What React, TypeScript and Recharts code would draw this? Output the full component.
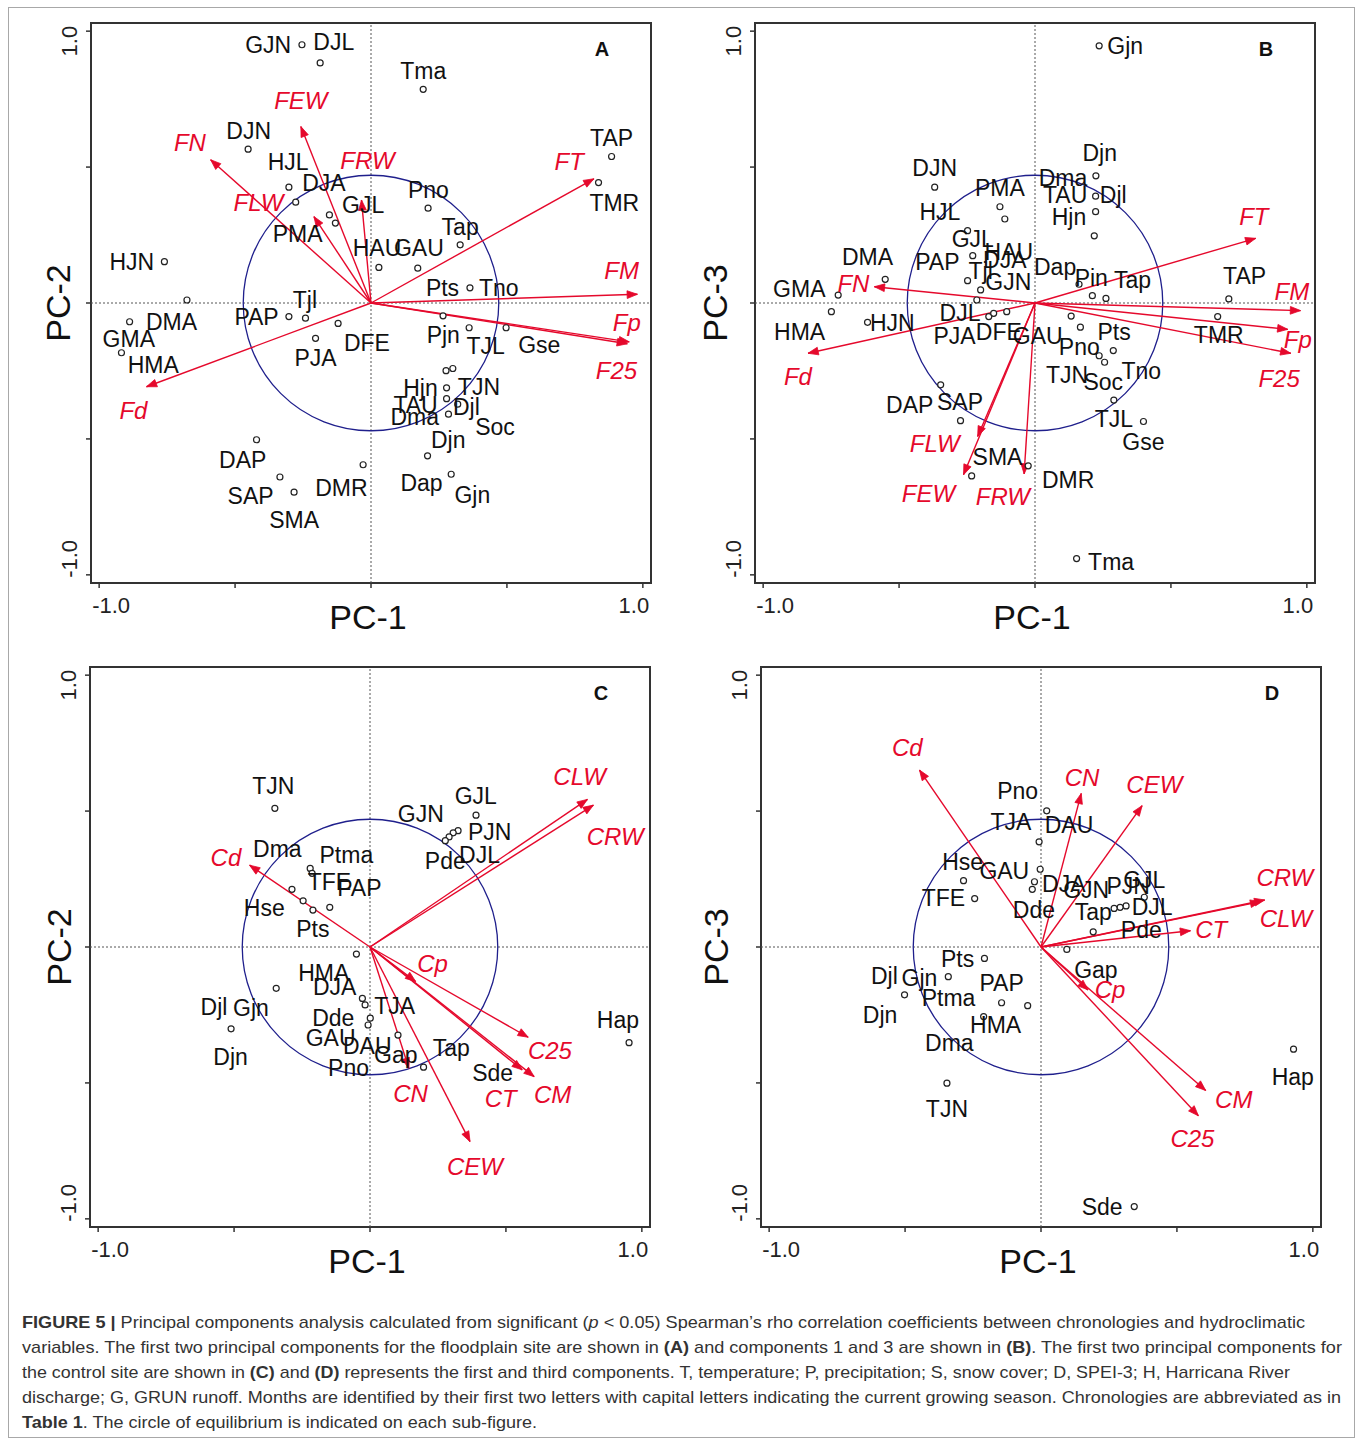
import React from "react";
import {
  ScatterChart,
  Scatter,
  XAxis,
  YAxis,
  ReferenceArea,
  ReferenceLine,
  ReferenceDot,
} from "recharts";

type Pt = [number, number];
type Lbl = [string, number, number];
// name, tip x, tip y, label x, label y
type Arrow = [string, number, number, number, number];

// ---- Panel A: floodplain site, PC-1 vs PC-2 ----
const pointsA: Pt[] = [
  [-0.254, 0.95], [-0.187, 0.883], [0.192, 0.786], [-0.452, 0.566], [0.885, 0.539],
  [0.837, 0.443], [-0.302, 0.426], [-0.277, 0.371], [-0.153, 0.324], [-0.131, 0.294],
  [0.21, 0.349], [0.328, 0.214], [0.029, 0.131], [0.172, 0.128], [-0.76, 0.152],
  [0.364, 0.056], [-0.677, 0.011], [-0.888, -0.069], [-0.918, -0.183], [-0.302, -0.05],
  [-0.241, -0.056], [-0.121, -0.075], [-0.204, -0.13], [0.265, -0.047], [0.361, -0.091],
  [0.497, -0.091], [0.276, -0.249], [0.301, -0.241], [0.278, -0.312], [0.278, -0.352],
  [0.319, -0.372], [0.285, -0.409], [-0.421, -0.503], [0.208, -0.562], [-0.029, -0.595],
  [-0.335, -0.64], [-0.283, -0.696], [0.295, -0.63],
];
const labelsA: Lbl[] = [
  ["GJN", -0.378, 0.95], ["DJL", -0.137, 0.96], ["Tma", 0.192, 0.852], ["DJN", -0.45, 0.634],
  ["TAP", 0.885, 0.607], ["HJL", -0.305, 0.517], ["DJA", -0.173, 0.441], ["GJL", -0.029, 0.361],
  ["Pno", 0.211, 0.416], ["TMR", 0.895, 0.367], ["PMA", -0.27, 0.254], ["Tap", 0.328, 0.281],
  ["HAU", 0.022, 0.201], ["GAU", 0.176, 0.201], ["HJN", -0.88, 0.152], ["Pts", 0.263, 0.054],
  ["Tno", 0.47, 0.054], ["Tjl", -0.243, 0.011], ["DMA", -0.734, -0.069], ["PAP", -0.421, -0.053],
  ["GMA", -0.891, -0.134], ["HMA", -0.801, -0.228], ["DFE", -0.015, -0.148], ["PJA", -0.204, -0.201],
  ["Pjn", 0.266, -0.118], ["TJL", 0.422, -0.158], ["Gse", 0.619, -0.155], ["Hjn", 0.182, -0.314],
  ["TJN", 0.397, -0.308], ["TAU", 0.164, -0.376], ["Djl", 0.351, -0.382], ["Dma", 0.161, -0.421],
  ["Soc", 0.456, -0.456], ["Djn", 0.284, -0.505], ["DAP", -0.472, -0.576], ["DMR", -0.109, -0.679],
  ["Dap", 0.186, -0.662], ["Gjn", 0.373, -0.707], ["SAP", -0.443, -0.711], ["SMA", -0.283, -0.797],
];
const arrowsA: Arrow[] = [
  ["FEW", -0.258, 0.649, -0.258, 0.744],
  ["FN", -0.59, 0.527, -0.666, 0.592],
  ["FRW", -0.035, 0.379, -0.013, 0.526],
  ["FLW", -0.21, 0.318, -0.414, 0.369],
  ["FT", 0.82, 0.457, 0.729, 0.521],
  ["FM", 0.98, 0.032, 0.922, 0.118],
  ["Fp", 0.95, -0.143, 0.941, -0.071],
  ["F25", 0.943, -0.15, 0.903, -0.249],
  ["Fd", -0.826, -0.308, -0.874, -0.394],
];

// ---- Panel B: floodplain site, PC-1 vs PC-3 ----
const pointsB: Pt[] = [
  [0.236, 0.946], [-0.369, 0.426], [0.224, 0.468], [0.223, 0.393], [0.223, 0.336],
  [0.218, 0.247], [-0.129, 0.354], [-0.111, 0.309], [-0.248, 0.266], [-0.229, 0.174],
  [-0.248, 0.082], [-0.2, 0.048], [-0.214, 0.011], [-0.551, 0.087], [-0.724, 0.029],
  [0.162, 0.069], [0.211, 0.027], [0.261, 0.017], [0.713, 0.015], [-0.749, -0.032],
  [-0.616, -0.071], [-0.17, -0.05], [-0.152, -0.038], [-0.104, -0.032], [0.133, -0.048],
  [0.167, -0.089], [0.672, -0.05], [0.288, -0.175], [0.236, -0.194], [0.256, -0.218],
  [-0.347, -0.301], [0.29, -0.357], [0.399, -0.436], [-0.274, -0.433], [-0.025, -0.599],
  [-0.233, -0.636], [0.153, -0.94],
];
const labelsB: Lbl[] = [
  ["Gjn", 0.332, 0.946], ["Djn", 0.238, 0.55], ["DJN", -0.369, 0.495], ["Dma", 0.103, 0.458],
  ["PMA", -0.129, 0.424], ["TAU", 0.111, 0.397], ["Djl", 0.288, 0.397], ["HJL", -0.35, 0.336],
  ["Hjn", 0.125, 0.317], ["GJL", -0.229, 0.235], ["HAU", -0.096, 0.189], ["DJA", -0.111, 0.158],
  ["DMA", -0.616, 0.17], ["PAP", -0.359, 0.152], ["Dap", 0.074, 0.131], ["Tjl", -0.2, 0.118],
  ["GJN", -0.098, 0.078], ["Pin", 0.207, 0.091], ["Tap", 0.359, 0.085], ["TAP", 0.771, 0.099],
  ["GMA", -0.867, 0.051], ["DJL", -0.276, -0.038], ["HJN", -0.525, -0.072], ["HMA", -0.866, -0.105],
  ["PJA", -0.296, -0.121], ["DFE", -0.133, -0.105], ["GAU", 0.01, -0.121], ["Pts", 0.291, -0.105],
  ["Pno", 0.163, -0.163], ["TMR", 0.676, -0.118], ["Tno", 0.391, -0.249], ["TJN", 0.118, -0.265],
  ["Soc", 0.251, -0.289], ["DAP", -0.461, -0.375], ["SAP", -0.276, -0.363], ["TJL", 0.29, -0.428],
  ["Gse", 0.399, -0.51], ["SMA", -0.138, -0.565], ["DMR", 0.122, -0.651], ["Tma", 0.28, -0.951],
];
const arrowsB: Arrow[] = [
  ["FT", 0.812, 0.238, 0.805, 0.317],
  ["FN", -0.591, 0.06, -0.668, 0.072],
  ["FM", 0.977, -0.028, 0.945, 0.042],
  ["Fp", 0.93, -0.097, 0.967, -0.134],
  ["F25", 0.941, -0.185, 0.898, -0.277],
  ["Fd", -0.835, -0.185, -0.872, -0.271],
  ["FLW", -0.211, -0.491, -0.369, -0.518],
  ["FEW", -0.263, -0.632, -0.392, -0.7],
  ["FRW", -0.04, -0.629, -0.118, -0.712],
];

// ---- Panel C: control site, PC-1 vs PC-2 ----
const pointsC: Pt[] = [
  [-0.35, 0.51], [0.39, 0.485], [0.324, 0.428], [0.306, 0.42], [0.291, 0.405],
  [0.277, 0.391], [-0.22, 0.289], [-0.213, 0.271], [-0.287, 0.212], [-0.246, 0.17],
  [-0.21, 0.136], [-0.148, 0.146], [-0.05, -0.026], [-0.345, -0.152], [-0.511, -0.301],
  [-0.028, -0.189], [-0.018, -0.213], [0.001, -0.262], [-0.007, -0.287], [0.103, -0.324],
  [0.197, -0.442], [0.953, -0.352],
];
const labelsC: Lbl[] = [
  ["TJN", -0.356, 0.592], ["GJL", 0.389, 0.555], ["GJN", 0.187, 0.491], ["PJN", 0.44, 0.424],
  ["Dma", -0.341, 0.359], ["Ptma", -0.087, 0.338], ["DJL", 0.403, 0.338], ["Pde", 0.277, 0.317],
  ["TFE", -0.149, 0.24], ["PAP", -0.039, 0.218], ["Hse", -0.389, 0.142], ["Pts", -0.21, 0.065],
  ["HMA", -0.17, -0.097], ["DJA", -0.13, -0.146], ["TJA", 0.091, -0.216], ["Djl", -0.574, -0.219],
  ["Gjn", -0.438, -0.226], ["Hap", 0.912, -0.268], ["Dde", -0.135, -0.262], ["GAU", -0.145, -0.336],
  ["DAU", -0.01, -0.364], ["Gap", 0.095, -0.397], ["Tap", 0.299, -0.373], ["Djn", -0.513, -0.406],
  ["Pno", -0.079, -0.446], ["Sde", 0.451, -0.462],
];
const arrowsC: Arrow[] = [
  ["CLW", 0.8, 0.543, 0.771, 0.629],
  ["CRW", 0.822, 0.522, 0.902, 0.406],
  ["Cd", -0.443, 0.301, -0.53, 0.33],
  ["Cp", 0.168, -0.127, 0.23, -0.06],
  ["C25", 0.582, -0.332, 0.662, -0.379],
  ["CT", 0.56, -0.452, 0.481, -0.556],
  ["CM", 0.604, -0.477, 0.672, -0.544],
  ["CN", 0.143, -0.446, 0.149, -0.538],
  ["CEW", 0.368, -0.716, 0.386, -0.808],
];

// ---- Panel D: control site, PC-1 vs PC-3 ----
const pointsD: Pt[] = [
  [0.021, 0.501], [-0.007, 0.387], [-0.003, 0.286], [-0.024, 0.24], [-0.032, 0.212],
  [-0.285, 0.244], [-0.244, 0.178], [0.38, 0.183], [0.313, 0.151], [0.291, 0.146],
  [0.269, 0.142], [0.192, 0.056], [0.095, -0.009], [-0.208, -0.042], [-0.341, -0.109],
  [-0.502, -0.176], [-0.145, -0.205], [-0.049, -0.216], [-0.211, -0.256], [-0.346, -0.501],
  [0.929, -0.376], [0.343, -0.955],
];
const labelsD: Lbl[] = [
  ["Pno", -0.086, 0.574], ["TJA", -0.111, 0.458], ["DAU", 0.103, 0.449], ["Hse", -0.288, 0.314],
  ["GAU", -0.135, 0.279], ["GJL", 0.38, 0.246], ["DJA", 0.084, 0.232], ["GJN", 0.166, 0.21],
  ["PJN", 0.321, 0.224], ["TFE", -0.359, 0.179], ["DJL", 0.409, 0.148], ["Dde", -0.026, 0.136],
  ["Tap", 0.192, 0.13], ["Pde", 0.369, 0.063], ["Pts", -0.307, -0.045], ["Gap", 0.202, -0.085],
  ["Djl", -0.576, -0.107], ["Gjn", -0.447, -0.113], ["PAP", -0.145, -0.131], ["Ptma", -0.34, -0.189],
  ["Djn", -0.592, -0.25], ["HMA", -0.167, -0.287], ["Dma", -0.337, -0.352], ["Hap", 0.926, -0.477],
  ["TJN", -0.346, -0.597], ["Sde", 0.225, -0.955],
];
const arrowsD: Arrow[] = [
  ["Cd", -0.447, 0.651, -0.492, 0.734],
  ["CN", 0.148, 0.565, 0.151, 0.624],
  ["CEW", 0.372, 0.52, 0.417, 0.599],
  ["CRW", 0.823, 0.173, 0.897, 0.256],
  ["CLW", 0.808, 0.167, 0.901, 0.105],
  ["CT", 0.55, 0.06, 0.626, 0.063],
  ["Cp", 0.173, -0.158, 0.254, -0.156],
  ["CM", 0.606, -0.528, 0.709, -0.56],
  ["C25", 0.579, -0.621, 0.557, -0.703],
];

const axisTicks = [-1, -0.5, 0, 0.5, 1];
const circleRadius = 0.47; // circle of equilibrium

// layout
const LIM = 1.03;
const PLOT = 560;
const PX_PER_UNIT = PLOT / (2 * LIM);
const PAD_L = 90;
const PAD_T = 23;
const RED = "#e5092c";
const FONT = '"Liberation Sans", Arial, Helvetica, sans-serif';

const panels = [
  { letter: "A", left: 91, top: 23, yTitle: "PC-2", yTitleDx: -33, points: pointsA, labels: labelsA, arrows: arrowsA },
  { letter: "B", left: 755, top: 23, yTitle: "PC-3", yTitleDx: -40, points: pointsB, labels: labelsB, arrows: arrowsB },
  { letter: "C", left: 90, top: 667, yTitle: "PC-2", yTitleDx: -31, points: pointsC, labels: labelsC, arrows: arrowsC },
  { letter: "D", left: 761, top: 667, yTitle: "PC-3", yTitleDx: -45, points: pointsD, labels: labelsD, arrows: arrowsD },
];

const XTick = (props: any) => {
  const v = props.payload.value;
  const y = PAD_T + PLOT + 22;
  if (v !== -1 && v !== 1) return <g />;
  return (
    <text
      x={v === -1 ? props.x + 12 : props.x - 9}
      y={y}
      textAnchor="middle"
      dominantBaseline="central"
      fontSize={22}
      fontFamily={FONT}
      fill="#222"
    >
      {v === -1 ? "-1.0" : "1.0"}
    </text>
  );
};

const YTick = (props: any) => {
  const v = props.payload.value;
  if (v !== -1 && v !== 1) return <g />;
  const cx = PAD_L - 21.5;
  const cy = v === 1 ? props.y + 10 : props.y - 16;
  return (
    <text
      x={cx}
      y={cy}
      transform={`rotate(-90, ${cx}, ${cy})`}
      textAnchor="middle"
      dominantBaseline="central"
      fontSize={22}
      fontFamily={FONT}
      fill="#222"
    >
      {v === -1 ? "-1.0" : "1.0"}
    </text>
  );
};

const ArrowHead = (props: any) => {
  const { cx, cy, payload } = props;
  if (!payload.tip) return <g />;
  const a = Math.atan2(-payload.y, payload.x);
  const L = 11;
  const w = 0.36;
  const p1 = `${cx - L * Math.cos(a + w)},${cy - L * Math.sin(a + w)}`;
  const p2 = `${cx - L * Math.cos(a - w)},${cy - L * Math.sin(a - w)}`;
  return <polygon points={`${cx},${cy} ${p1} ${p2}`} fill={RED} stroke={RED} strokeWidth={0.8} />;
};

const OpenDot = (props: any) => (
  <circle cx={props.cx} cy={props.cy} r={3} fill="#fff" stroke="#222" strokeWidth={1.2} />
);

const NameText = (props: any) => (
  <text
    x={props.cx}
    y={props.cy}
    textAnchor="middle"
    dominantBaseline="central"
    fontSize={23}
    fontFamily={FONT}
    fill="#111"
  >
    {props.payload.name}
  </text>
);

const VarText = (props: any) => (
  <text
    x={props.cx}
    y={props.cy}
    textAnchor="middle"
    dominantBaseline="central"
    fontSize={24}
    fontStyle="italic"
    fontFamily={FONT}
    fill={RED}
  >
    {props.payload.name}
  </text>
);

const LetterText = (props: any) => (
  <text
    x={props.cx}
    y={props.cy}
    textAnchor="middle"
    dominantBaseline="central"
    fontSize={20}
    fontWeight="bold"
    fontFamily={FONT}
    fill="#111"
  >
    {props.payload.name}
  </text>
);

function Biplot({ letter, left, top, yTitle, yTitleDx, points, labels, arrows }: any) {
  const pts = points.map(([x, y]: Pt) => ({ x, y }));
  const names = labels.map(([name, x, y]: Lbl) => ({ name, x, y }));
  const varNames = arrows.map((a: Arrow) => ({ name: a[0], x: a[3], y: a[4] }));
  return (
    <div style={{ position: "absolute", left: left - PAD_L, top: top - PAD_T }}>
      <ScatterChart
        width={PAD_L + PLOT + 10}
        height={PAD_T + PLOT + 60}
        margin={{ top: PAD_T, right: 10, bottom: 10, left: PAD_L - 60 }}
      >
        <XAxis
          type="number"
          dataKey="x"
          domain={[-LIM, LIM]}
          ticks={axisTicks}
          allowDataOverflow
          height={50}
          axisLine={false}
          tickSize={5}
          tickLine={{ stroke: "#333", strokeWidth: 1.5 }}
          tick={XTick}
          label={() => (
            <text
              x={PAD_L + PLOT / 2 - 3}
              y={PAD_T + PLOT + 34}
              textAnchor="middle"
              dominantBaseline="central"
              fontSize={34}
              fontFamily={FONT}
              fill="#111"
            >
              PC-1
            </text>
          )}
        />
        <YAxis
          type="number"
          dataKey="y"
          domain={[-LIM, LIM]}
          ticks={axisTicks}
          allowDataOverflow
          width={60}
          axisLine={false}
          tickSize={5}
          tickLine={{ stroke: "#333", strokeWidth: 1.5 }}
          tick={YTick}
          label={() => {
            const cx = PAD_L + yTitleDx;
            const cy = PAD_T + PLOT / 2;
            return (
              <text
                x={cx}
                y={cy}
                transform={`rotate(-90, ${cx}, ${cy})`}
                textAnchor="middle"
                dominantBaseline="central"
                fontSize={34}
                fontFamily={FONT}
                fill="#111"
              >
                {yTitle}
              </text>
            );
          }}
        />
        <ReferenceArea
          x1={-LIM}
          x2={LIM}
          y1={-LIM}
          y2={LIM}
          fill="none"
          fillOpacity={0}
          stroke="#333"
          strokeWidth={2}
          ifOverflow="visible"
        />
        <ReferenceLine x={0} stroke="#555" strokeDasharray="2 2" strokeWidth={1} />
        <ReferenceLine y={0} stroke="#555" strokeDasharray="2 2" strokeWidth={1} />
        <ReferenceDot
          x={0}
          y={0}
          r={circleRadius * PX_PER_UNIT}
          fill="none"
          stroke="#1f1f8c"
          strokeWidth={1.3}
        />
        {arrows.map((a: Arrow) => (
          <Scatter
            key={a[0]}
            data={[
              { x: 0, y: 0, tip: false },
              { x: a[1], y: a[2], tip: true },
            ]}
            line={{ stroke: RED, strokeWidth: 1.4 }}
            lineType="joint"
            shape={ArrowHead}
            isAnimationActive={false}
          />
        ))}
        <Scatter data={pts} shape={OpenDot} isAnimationActive={false} />
        <Scatter data={names} shape={NameText} isAnimationActive={false} />
        <Scatter data={varNames} shape={VarText} isAnimationActive={false} />
        <Scatter
          data={[{ x: 0.85, y: 0.935, name: letter }]}
          shape={LetterText}
          isAnimationActive={false}
        />
      </ScatterChart>
    </div>
  );
}

function Caption() {
  const common = { fontSize: 17, fontFamily: FONT, fill: "#333", lengthAdjust: "spacingAndGlyphs" as const };
  return (
    <svg
      width={1360}
      height={140}
      style={{ position: "absolute", left: 0, top: 1300 }}
    >
      <text x={22} y={28} textLength={1283} {...common}>
        <tspan fontWeight="bold">{"FIGURE 5 | "}</tspan>
        {"Principal components analysis calculated from significant ("}
        <tspan fontStyle="italic">p</tspan>
        {" < 0.05) Spearman’s rho correlation coefficients between chronologies and hydroclimatic"}
      </text>
      <text x={22} y={53} textLength={1320} {...common}>
        {"variables. The first two principal components for the floodplain site are shown in "}
        <tspan fontWeight="bold">(A)</tspan>
        {" and components 1 and 3 are shown in "}
        <tspan fontWeight="bold">(B)</tspan>
        {". The first two principal components for"}
      </text>
      <text x={22} y={78} textLength={1268} {...common}>
        {"the control site are shown in "}
        <tspan fontWeight="bold">(C)</tspan>
        {" and "}
        <tspan fontWeight="bold">(D)</tspan>
        {" represents the first and third components. T, temperature; P, precipitation; S, snow cover; D, SPEI-3; H, Harricana River"}
      </text>
      <text x={22} y={103} textLength={1319} {...common}>
        {"discharge; G, GRUN runoff. Months are identified by their first two letters with capital letters indicating the current growing season. Chronologies are abbreviated as in"}
      </text>
      <text x={22} y={128} textLength={515} {...common}>
        <tspan fontWeight="bold">Table 1</tspan>
        {". The circle of equilibrium is indicated on each sub-figure."}
      </text>
    </svg>
  );
}

export default function App() {
  return (
    <div
      style={{
        position: "absolute",
        left: 0,
        top: 0,
        width: 1360,
        height: 1440,
        background: "#fff",
        fontFamily: FONT,
      }}
    >
      <div
        style={{
          position: "absolute",
          left: 8,
          top: 7,
          width: 1347,
          height: 1431,
          border: "1px solid #a8a8a8",
          boxSizing: "border-box",
        }}
      />
      {panels.map((p) => (
        <Biplot key={p.letter} {...p} />
      ))}
      <Caption />
    </div>
  );
}
